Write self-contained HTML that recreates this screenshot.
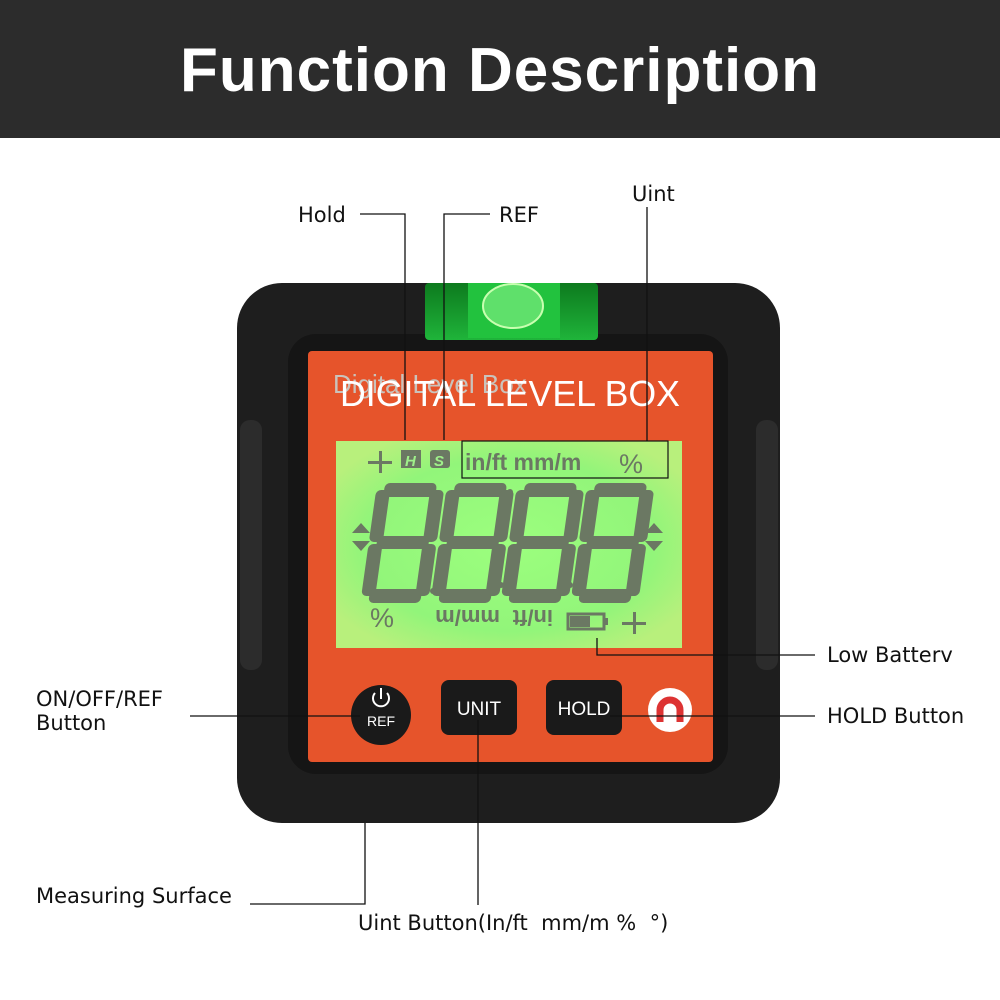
<!DOCTYPE html>
<html><head><meta charset="utf-8"><style>
*{margin:0;padding:0}
body{width:1000px;height:1000px;background:#fff;position:relative;overflow:hidden;font-family:"Liberation Sans","DejaVu Sans",sans-serif}
.hdr{position:absolute;left:0;top:0;width:1000px;height:138px;background:#2c2c2c;color:#fff;font-weight:bold;font-size:62px;text-align:center;line-height:142px;letter-spacing:1px}
.lbl{position:absolute;font-size:21px;color:#111;font-family:"DejaVu Sans","Liberation Sans",sans-serif}
</style></head><body>
<div class="hdr">Function Description</div>
<svg width="1000" height="1000" style="position:absolute;left:0;top:0">
<defs>
<radialGradient id="lcd" cx="50%" cy="50%" r="60%"><stop offset="0" stop-color="#9cff7e"/><stop offset="0.7" stop-color="#92f57a"/><stop offset="1" stop-color="#b8f07c"/></radialGradient>
<linearGradient id="vial" x1="0" y1="0" x2="0" y2="1"><stop offset="0" stop-color="#0d7a1e"/><stop offset="1" stop-color="#1fb43a"/></linearGradient>
</defs>
<rect x="237" y="283" width="543" height="540" rx="45" fill="#1e1e1e"/>
<rect x="240" y="420" width="22" height="250" rx="10" fill="#2c2c2c"/>
<rect x="756" y="420" width="22" height="250" rx="10" fill="#2c2c2c"/>
<rect x="288" y="334" width="440" height="440" rx="28" fill="#151515"/>
<rect x="425" y="283" width="173" height="57" rx="4" fill="url(#vial)"/>
<rect x="468" y="283" width="92" height="55" fill="#22c23e"/>
<ellipse cx="513" cy="306" rx="30" ry="22" fill="#5fe06b" stroke="#c8ffb0" stroke-width="2"/>
<rect x="308" y="351" width="405" height="411" rx="4" fill="#e6542b"/>
<rect x="336" y="441" width="346" height="207" fill="url(#lcd)"/>
<rect x="462" y="441" width="206" height="37" fill="none" stroke="#111" stroke-width="1.2"/>
<g fill="#6b7863" transform="skewX(-8) translate(75,0)">
<g id="d"><rect x="378" y="483" width="52" height="14" rx="5"/><rect x="370" y="490" width="14" height="52" rx="5"/><rect x="424" y="490" width="14" height="52" rx="5"/><rect x="378" y="536" width="52" height="13" rx="5"/><rect x="370" y="544" width="14" height="52" rx="5"/><rect x="424" y="544" width="14" height="52" rx="5"/><rect x="378" y="589" width="52" height="14" rx="5"/></g>
<use href="#d" x="70"/><use href="#d" x="140"/><use href="#d" x="210"/>
</g>
<g fill="#6b7863"><circle cx="433" cy="591" r="3"/><circle cx="501" cy="585" r="3"/><circle cx="570" cy="585" r="3"/><circle cx="434" cy="492" r="3"/><circle cx="510" cy="492" r="3"/><circle cx="574" cy="491" r="3"/>
<polygon points="361,523 352,533 370,533"/><polygon points="352,541 370,541 361,551"/><polygon points="654,523 645,533 663,533"/><polygon points="645,541 663,541 654,551"/>
<rect x="568" y="614" width="36" height="15" fill="none" stroke="#6b7863" stroke-width="3"/><rect x="604" y="618" width="4" height="7"/><rect x="570" y="616" width="20" height="11"/>
<rect x="368" y="461" width="24" height="3"/><rect x="379" y="451" width="3" height="22"/>
<rect x="622" y="622" width="24" height="3"/><rect x="633" y="612" width="3" height="22"/>
<rect x="401" y="450" width="20" height="18"/><rect x="430" y="450" width="20" height="18" rx="3"/></g>
<text x="405" y="466" font-size="15" font-weight="bold" fill="#9ff08a" font-style="italic">H</text>
<text x="434" y="466" font-size="15" font-weight="bold" fill="#9ff08a" font-style="italic">S</text>
<text x="465" y="470" font-size="23" font-weight="bold" fill="#6b7863">in/ft  mm/m</text>
<text x="619" y="473" font-size="27" fill="#6b7863">%</text>
<text x="370" y="627" font-size="27" fill="#6b7863">%</text>
<text x="0" y="0" font-size="22" font-weight="bold" fill="#6b7863" transform="translate(500,610) rotate(180)">mm/m</text>
<text x="0" y="0" font-size="22" font-weight="bold" fill="#6b7863" transform="translate(553,610) rotate(180)">in/ft</text>
<text x="333" y="393" font-size="26" fill="#c7d0cc" opacity="0.9">Digital Level Box</text>
<text x="340" y="406" font-size="36" fill="#fff" textLength="340" lengthAdjust="spacingAndGlyphs">DIGITAL LEVEL BOX</text>
<circle cx="381" cy="715" r="30" fill="#1a1a1a"/>
<path d="M375 693 a8 8 0 1 0 12 0" stroke="#fff" stroke-width="2" fill="none"/><line x1="381" y1="688" x2="381" y2="699" stroke="#fff" stroke-width="2"/>
<text x="381" y="726" font-size="14" fill="#fff" text-anchor="middle">REF</text>
<rect x="441" y="680" width="76" height="55" rx="8" fill="#1a1a1a"/>
<text x="479" y="715" font-size="19" fill="#fff" text-anchor="middle">UNIT</text>
<rect x="546" y="680" width="76" height="55" rx="8" fill="#1a1a1a"/>
<text x="584" y="715" font-size="19" fill="#fff" text-anchor="middle">HOLD</text>
<circle cx="670" cy="710" r="22" fill="#fff"/>
<path d="M660 722 v-12 a10 10 0 0 1 20 0 v12" stroke="#d33" stroke-width="7" fill="none"/>
<g stroke="#111" stroke-width="1.3" fill="none">
<polyline points="360,214 405,214 405,440"/>
<polyline points="490,214 444,214 444,440"/>
<line x1="647" y1="207" x2="647" y2="441"/>
<polyline points="597,638 597,655 815,655"/>
<line x1="190" y1="716" x2="360" y2="716"/>
<line x1="610" y1="716" x2="815" y2="716"/>
<line x1="478" y1="720" x2="478" y2="905"/>
<polyline points="250,904 365,904 365,823"/>
</g>
</svg>
<div class="lbl" style="left:298px;top:203px">Hold</div>
<div class="lbl" style="left:499px;top:203px">REF</div>
<div class="lbl" style="left:632px;top:182px">Uint</div>
<div class="lbl" style="left:827px;top:643px">Low Batterv</div>
<div class="lbl" style="left:36px;top:687px">ON/OFF/REF<br>Button</div>
<div class="lbl" style="left:827px;top:704px">HOLD Button</div>
<div class="lbl" style="left:36px;top:884px">Measuring Surface</div>
<div class="lbl" style="left:358px;top:911px">Uint Button(In/ft&nbsp; mm/m %&nbsp; °)</div>
</body></html>
